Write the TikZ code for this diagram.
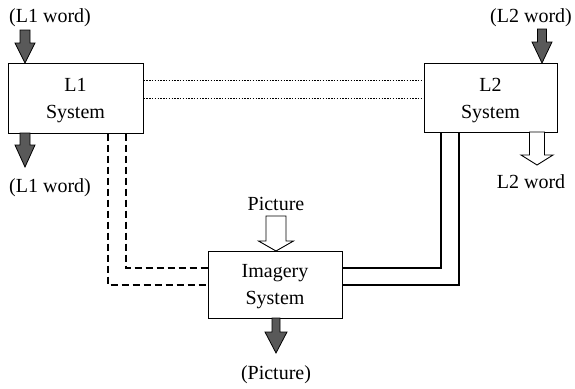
\documentclass[tikz,border=0pt]{standalone}
\usepackage{fontspec}
\setmainfont{Liberation Serif}
% style, x, ytop, ytip, shaft half width, head half width, head length
\newcommand\fatArrowDown[7]{%
  \draw[#1] (#2-#5,#3) -- (#2+#5,#3) -- (#2+#5,#4-#7) -- (#2+#6,#4-#7) -- (#2,#4)
    -- (#2-#6,#4-#7) -- (#2-#5,#4-#7) -- cycle;}
\begin{document}
\begin{tikzpicture}[x=1pt,y=-1pt,
  txt/.style={font=\fontsize{20}{27}\selectfont, inner sep=0pt, align=center},
  box/.style={draw, line width=1pt, inner sep=0pt},
  darkarr/.style={draw=black, line width=0.8pt, fill=black!65},
  openarr/.style={draw=black, line width=0.9pt, fill=white},
  dotline/.style={line width=1.6pt, dash pattern=on 1.4pt off 1.4pt},
  dashline/.style={line width=1.3pt, dash pattern=on 7pt off 4pt},
  solidline/.style={line width=1.2pt}]
\useasboundingbox (0,0) rectangle (575,388);

\node[box, minimum width=135pt, minimum height=70pt] (l1) at (75.5,98) {};
\node[box, minimum width=133pt, minimum height=69pt] (l2) at (490.5,97.5) {};
\node[box, minimum width=134pt, minimum height=67pt] (img) at (275,284.5) {};
\node[txt] (l1t) at ([yshift=-3pt]l1.center) {L1\\System};
\node[txt] (l2t) at ([yshift=-3pt]l2.center) {L2\\System};
\node[txt] (imgt) at ([yshift=-2pt]img.center) {Imagery\\System};

\node[txt] (l1in) at (50,18) {(L1 word)};
\node[txt] (l1out) at (50,188) {(L1 word)};
\node[txt] (l2in) at (531,18) {(L2 word)};
\node[txt] (l2out) at (531,182) {L2 word};
\node[txt] (picin) at (276,204) {Picture};
\node[txt] (picout) at (276,375) {(Picture)};

% dotted links L1 - L2
\draw[dotline] ([yshift=-18pt]l1.north east) -- ([yshift=-18pt]l2.north west |- l1.north east);
\draw[dotline] ([yshift=-36pt]l1.north east) -- ([yshift=-36pt]l2.north west |- l1.north east);

% dashed links L1 - Imagery
\coordinate (d1) at (126,268);
\coordinate (d2) at (108,285);
\draw[dashline] (l1.south -| d1) -- (d1) -- (img.west |- d1);
\draw[dashline] (l1.south -| d2) -- (d2) -- (img.west |- d2);

% solid links L2 - Imagery
\coordinate (s1) at (441,268);
\coordinate (s2) at (459,285);
\draw[solidline] (l2.south -| s1) -- (s1) -- (img.east |- s1);
\draw[solidline] (l2.south -| s2) -- (s2) -- (img.east |- s2);

% fat arrows
\fatArrowDown{darkarr}{25}{30}{63}{5}{10}{20}
\fatArrowDown{darkarr}{25}{133}{167}{5}{10}{22}
\fatArrowDown{darkarr}{542}{29}{63}{4.5}{10}{21}
\fatArrowDown{openarr}{537}{132}{165}{7.5}{16}{10}
\fatArrowDown{openarr}{276}{216}{251}{10}{17.5}{10}
\fatArrowDown{darkarr}{276}{318}{353}{4}{11}{21}
\end{tikzpicture}
\end{document}
